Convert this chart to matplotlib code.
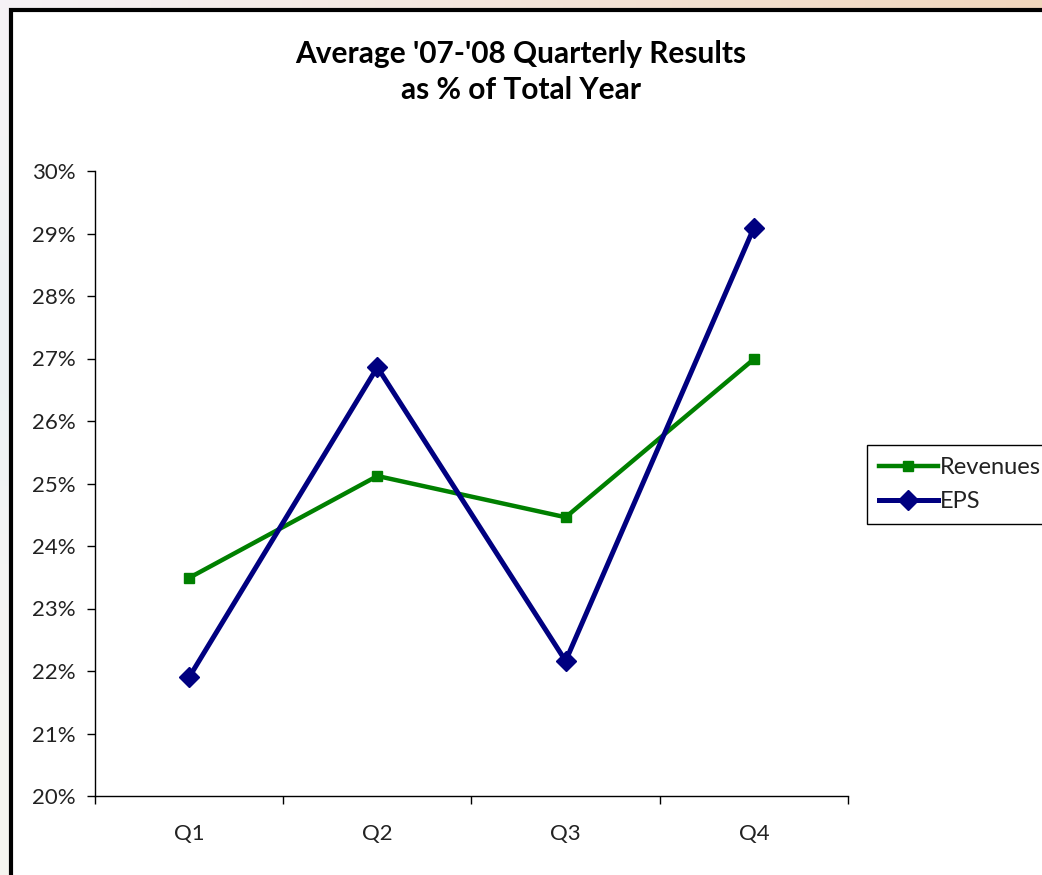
import numpy as np
import matplotlib
matplotlib.use("Agg")
import matplotlib.pyplot as plt
from matplotlib.patches import Rectangle
from matplotlib.ticker import FuncFormatter, FixedLocator

quarters = ["Q1", "Q2", "Q3", "Q4"]
revenues = [23.49, 25.12, 24.46, 26.99]
eps = [21.90, 26.86, 22.16, 29.09]

plt.rcParams['font.family'] = ['Lato', 'DejaVu Sans']

W, H = 1042, 875
fig = plt.figure(figsize=(W / 100, H / 100), dpi=100)

# soft slide background behind the chart panel
bg = fig.add_axes([0, 0, 1, 1], zorder=-5)
bg.set_axis_off()
yy, xx = np.mgrid[0:1:200j, 0:1:200j]
tl = np.array([246, 242, 246]) / 255
tr = np.array([240, 214, 188]) / 255
bl = np.array([246, 246, 240]) / 255
br = np.array([240, 240, 236]) / 255
img = ((1 - xx)[..., None] * ((1 - yy)[..., None] * tl + yy[..., None] * bl)
       + xx[..., None] * ((1 - yy)[..., None] * tr + yy[..., None] * br))
mid = np.exp(-((yy - 0.4) / 0.2) ** 2)[..., None] * (1 - xx)[..., None]
img = img * (1 - 0.5 * mid) + 0.5 * mid * np.array([228, 240, 246]) / 255
bg.imshow(img, extent=[0, 1, 0, 1], aspect='auto', origin='upper')
bg.set_xlim(0, 1)
bg.set_ylim(0, 1)

# white chart panel with heavy black frame
bg.add_patch(Rectangle((10.5 / W, -0.05), 1.1, 1.05 - 9.5 / H,
                       transform=fig.transFigure, facecolor='white',
                       edgecolor='black', linewidth=3, clip_on=False))

ax = fig.add_axes([95 / W, 1 - 796 / H, (848 - 95) / W, (796 - 171) / H])
ax.set_facecolor('none')
x = np.arange(len(quarters))
ax.plot(x, revenues, color='#008000', lw=3.2, marker='s', ms=7,
        label='Revenues', zorder=3, clip_on=False)
ax.plot(x, eps, color='#000080', lw=3.6, marker='D', ms=10.5,
        label='EPS', zorder=3, clip_on=False)

ax.set_xlim(-0.5, 3.5)
ax.set_ylim(20, 30)
ax.set_yticks(np.arange(20, 31, 1))
ax.yaxis.set_major_formatter(FuncFormatter(lambda v, p: f"{v:.0f}%"))
ax.set_xticks(x)
ax.set_xticklabels(quarters)
ax.xaxis.set_minor_locator(FixedLocator(np.arange(-0.5, 3.6, 1)))
ax.tick_params(axis='x', which='major', length=0, pad=20, labelsize=16,
               labelcolor='#222222')
ax.tick_params(axis='x', which='minor', length=6, direction='out', width=1)
ax.tick_params(axis='y', length=6, direction='out', width=1, pad=8,
               labelsize=16, labelcolor='#222222')
for s in ['top', 'right']:
    ax.spines[s].set_visible(False)
for s in ['left', 'bottom']:
    ax.spines[s].set_linewidth(1)

fig.suptitle("Average '07-'08 Quarterly Results\nas % of Total Year",
             y=1 - 40 / H, fontsize=21.5, fontweight='bold', linespacing=1.35)

leg = fig.legend(loc='upper left', bbox_to_anchor=(867 / W, 1 - 445 / H),
                 bbox_transform=fig.transFigure, fontsize=17, frameon=True,
                 fancybox=False, edgecolor='black', framealpha=1,
                 handlelength=2.5, handletextpad=0.1, borderpad=0.5,
                 labelspacing=0.55, borderaxespad=0)
for t in leg.get_texts():
    t.set_color('#222222')

fig.savefig("out.png", dpi=100)
